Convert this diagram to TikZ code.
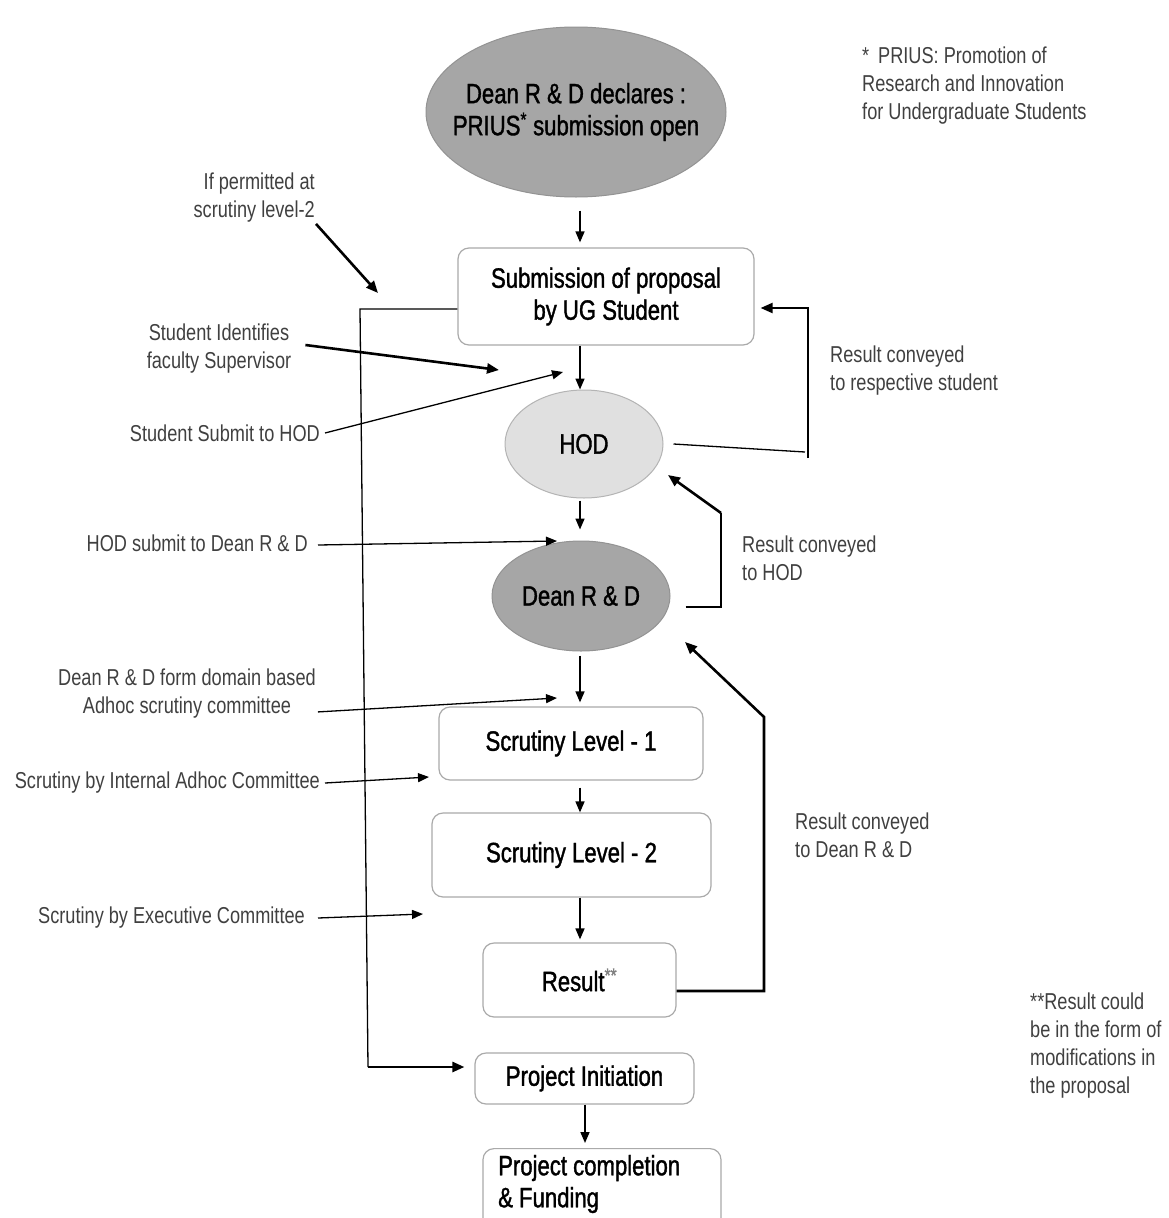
\documentclass[tikz,border=0pt]{standalone}
\usepackage{fontspec}
\setmainfont{Liberation Sans}[FakeStretch=0.79]
\newfontfamily\nodefont{Liberation Sans}[FakeStretch=0.79, FakeBold=1.3]
\usetikzlibrary{arrows.meta,shapes.geometric,calc}
\definecolor{ellfill}{HTML}{A6A6A6}
\definecolor{ellborder}{HTML}{939393}
\definecolor{hodfill}{HTML}{E0E0E0}
\definecolor{hodborder}{HTML}{B4B4B4}
\definecolor{boxborder}{HTML}{AAAAAA}
\definecolor{lblgray}{HTML}{404040}
\tikzset{
  nodetxt/.style={font=\nodefont\fontsize{28}{32}\selectfont, text=black, align=center},
  lbl/.style={font=\fontsize{23}{28}\selectfont, text=lblgray, inner sep=0pt},
  greyell/.style={ellipse, draw=ellborder, fill=ellfill, line width=1pt, inner sep=0pt, nodetxt},
  lightell/.style={ellipse, draw=hodborder, fill=hodfill, line width=1pt, inner sep=0pt, nodetxt},
  rbox/.style={rectangle, rounded corners=11pt, draw=boxborder, line width=1.2pt, fill=white, inner sep=0pt, nodetxt},
  arr/.style={-{Triangle[length=11pt,width=9pt]}, line width=1.6pt},
  thickarr/.style={-{Triangle[length=12pt,width=10pt]}, line width=2.6pt},
  thinline/.style={line width=1.3pt},
}
\begin{document}
\begin{tikzpicture}[x=1pt,y=-1pt]
\useasboundingbox[fill=white] (0,0) rectangle (1169,1218);
\clip (0,0) rectangle (1169,1218);

% main nodes
\node[greyell, minimum width=300pt, minimum height=170pt] (top) at (576,112) {};
\node[nodetxt] (topT) at (top.center) {Dean R \& D declares :\\PRIUS\textsuperscript{*} submission open};
\node[rbox, minimum width=296pt, minimum height=97pt] (sub) at (606,296.5) {Submission of proposal\\by UG Student};
\node[lightell, minimum width=158pt, minimum height=108pt] (hod) at (584,444) {HOD};
\node[greyell, minimum width=178pt, minimum height=110pt] (dean) at (581,596) {Dean R \& D};
\node[rbox, minimum width=264pt, minimum height=73pt] (s1) at (571,743.5) {Scrutiny Level - 1};
\node[rbox, minimum width=279pt, minimum height=84pt] (s2) at (571.5,855) {Scrutiny Level - 2};
\node[rbox, minimum width=193pt, minimum height=74pt] (res) at (579.5,980) {Result\textcolor{gray}{\textsuperscript{**}}};
\node[rbox, minimum width=219pt, minimum height=51pt] (pi) at (584.5,1078.5) {Project Initiation};
\node[rbox, minimum width=238pt, minimum height=90pt, anchor=north] (pc) at (602,1148) {};
\node[nodetxt, align=left, anchor=west, inner sep=0pt] (pcT) at (498,1184) {Project completion\\\& Funding};

% labels
\node[lbl, align=right, anchor=east] (ifp) at (315,198) {If permitted at\\scrutiny level-2};
\node[lbl, align=center] (sid) at (219,349) {Student Identifies\\faculty Supervisor};
\node[lbl, anchor=east] (ssh) at (320,433) {Student Submit to HOD};
\node[lbl, anchor=east] (hsd) at (308,543) {HOD submit to Dean R \& D};
\node[lbl, align=center] (dfd) at (187,694) {Dean R \& D form domain based\\Adhoc scrutiny committee};
\node[lbl, anchor=east] (sic) at (320,783) {Scrutiny by Internal Adhoc Committee};
\node[lbl, anchor=east] (sec) at (305,918) {Scrutiny by Executive Committee};
\node[lbl, align=left, anchor=west] (rc1) at (830,371) {Result conveyed\\to respective student};
\node[lbl, align=left, anchor=west] (rc2) at (742,558) {Result conveyed\\to HOD};
\node[lbl, align=left, anchor=west] (rc3) at (795,835) {Result conveyed\\to Dean R \& D};
\node[lbl, align=left, anchor=west] (note1) at (862,86) {*\, PRIUS: Promotion of\\Research and Innovation\\for Undergraduate Students};
\node[lbl, align=left, anchor=west] (note2) at (1030,1046) {**Result could\\be in the form of\\modifications in\\the proposal};

% main flow
\coordinate (spine) at (580,0);
\coordinate (spineB) at (585,0);
\draw[arr, shorten <=13pt, shorten >=5pt] (spine |- top.south) -- (spine |- sub.north);
\draw[arr] (spine |- sub.south) -- (spine |- hod.north);
\draw[arr, shorten <=2pt, shorten >=11pt] (spine |- hod.south) -- (spine |- dean.north);
\draw[arr, shorten <=4pt, shorten >=4pt] (spine |- dean.south) -- (spine |- s1.north);
\draw[arr, shorten <=7pt] (spine |- s1.south) -- (spine |- s2.north);
\draw[arr, shorten >=3pt] (spine |- s2.south) -- (spine |- res.north);
\draw[arr, shorten >=5pt] (spineB |- pi.south) -- (spineB |- pc.north);

% feedback HOD -> student
\coordinate (f1a) at (805,452);
\coordinate (f1b) at (808,458);
\coordinate (f1c) at (808,308);
\draw[thinline] ($(hod.east)+(10,0)$) -- (f1a);
\draw[-{Triangle[length=12pt,width=10pt]}, line width=2.2pt, shorten >=6pt] (f1b) -- (f1c) -- (f1c -| sub.east);

% feedback Dean -> HOD
\coordinate (f2a) at (721,607);
\coordinate (f2b) at (721,513);
\coordinate (f2tip) at (668,475);
\draw[thinline] ($(dean.east)+(15,11)$) -- (f2a) -- (f2b);
\draw[thickarr] (f2b) -- (f2tip);

% feedback Result -> Dean
\coordinate (f3a) at (764,991);
\coordinate (f3b) at (764,717);
\coordinate (f3tip) at (685,642);
\draw[thickarr] (res.east |- f3a) -- (f3a) -- (f3b) -- (f3tip);

% left bypass
\coordinate (l1) at (360,309);
\coordinate (l2) at (368,1067);
\draw[thinline] (sub.west |- l1) -- (l1) -- (l2);
\draw[thickarr, shorten >=10pt] (l2) -- (l2 -| pi.west);

% label connectors
\coordinate (ifpTip) at (378,293);
\draw[thickarr] ($(ifp.south east)+(1,1)$) -- (ifpTip);
\coordinate (sidTip) at (499,370);
\draw[thickarr] ($(sid.east)+(14,-4)$) -- (sidTip);
\coordinate (sshTip) at (563,372);
\draw[arr, line width=1.3pt] ($(ssh.east)+(5,0)$) -- (sshTip);
\coordinate (hsdTip) at (557,541);
\draw[arr, line width=1.3pt] ($(hsd.east)+(10,2)$) -- (hsdTip);
\coordinate (dfdTip) at (557,698);
\draw[arr, line width=1.3pt] ($(dfd.south east)+(2,-7)$) -- (dfdTip);
\coordinate (sicTip) at (429,777);
\draw[arr, line width=1.3pt] ($(sic.east)+(5,0)$) -- (sicTip);
\coordinate (secTip) at (423,914);
\draw[arr, line width=1.3pt] ($(sec.east)+(13,0)$) -- (secTip);
\end{tikzpicture}
\end{document}
